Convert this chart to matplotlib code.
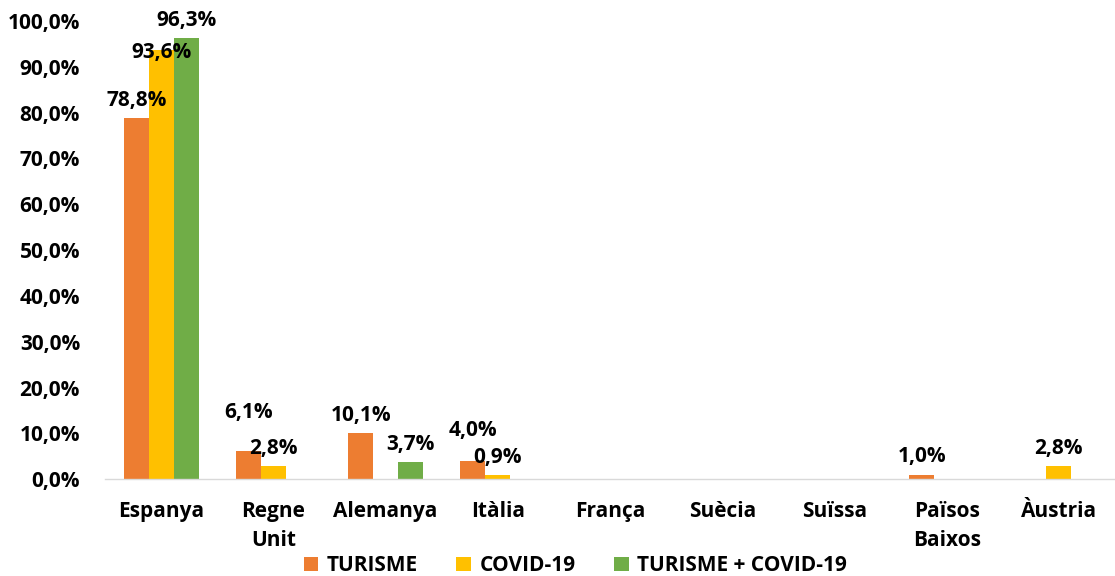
import matplotlib.pyplot as plt
import numpy as np

plt.rcParams["font.family"] = ["Open Sans", "DejaVu Sans"]

CATEGORIES = ["Espanya", "Regne\nUnit", "Alemanya", "Itàlia", "França",
              "Suècia", "Suïssa", "Països\nBaixos", "Àustria"]
TURISME = [78.8, 6.1, 10.1, 4.0, 0, 0, 0, 1.0, 0]
COVID = [93.6, 2.8, 0, 0.9, 0, 0, 0, 0, 2.8]
TURISME_COVID = [96.3, 0, 3.7, 0, 0, 0, 0, 0, 0]

SERIES = [
    ("TURISME", TURISME, "#ED7D31"),
    ("COVID-19", COVID, "#FFC000"),
    ("TURISME + COVID-19", TURISME_COVID, "#70AD47"),
]

# etiquetes desplaçades a mà (sèrie, categoria) -> pujada extra en punts %
LABEL_NUDGE = {(0, 1): 4.6, (0, 3): 2.8, (1, 0): -4.4}


def fmt(v):
    return f"{v:.1f}".replace(".", ",") + "%"


fig = plt.figure(figsize=(11.15, 5.76), dpi=100)
ax = fig.add_axes([0.0942, 0.168, 0.9058, 0.7955])

x = np.arange(len(CATEGORIES))
width = 0.222
for i, (name, values, color) in enumerate(SERIES):
    pos = x + (i - 1) * width
    ax.bar(pos, values, width, color=color, label=name)
    for j, (xp, v) in enumerate(zip(pos, values)):
        if v > 0:
            ax.text(xp, v + 1.6 + LABEL_NUDGE.get((i, j), 0), fmt(v),
                    ha="center", va="bottom", fontsize=15,
                    fontweight="bold")

ax.set_xlim(-0.5, len(CATEGORIES) - 0.5)
ax.set_ylim(0, 100)
ax.set_yticks(np.arange(0, 101, 10))
ax.set_yticklabels([fmt(t) for t in range(0, 101, 10)],
                   fontsize=15, fontweight="bold")
ax.set_xticks(x)
ax.set_xticklabels(CATEGORIES, fontsize=15, fontweight="bold",
                   linespacing=1.45, va="top")
ax.tick_params(axis="y", length=0, pad=18)
ax.tick_params(axis="x", length=0, pad=16)
for side in ["top", "right", "left"]:
    ax.spines[side].set_visible(False)
ax.spines["bottom"].set_color("#D9D9D9")
ax.spines["bottom"].set_linewidth(1.0)

fig.legend(loc="center", bbox_to_anchor=(0.516, 0.018), ncol=3,
           frameon=False, prop={"size": 15, "weight": "bold"},
           handlelength=0.7, handleheight=0.7, handletextpad=0.4,
           columnspacing=1.85, borderpad=0)

fig.savefig("out.png", dpi=100)
